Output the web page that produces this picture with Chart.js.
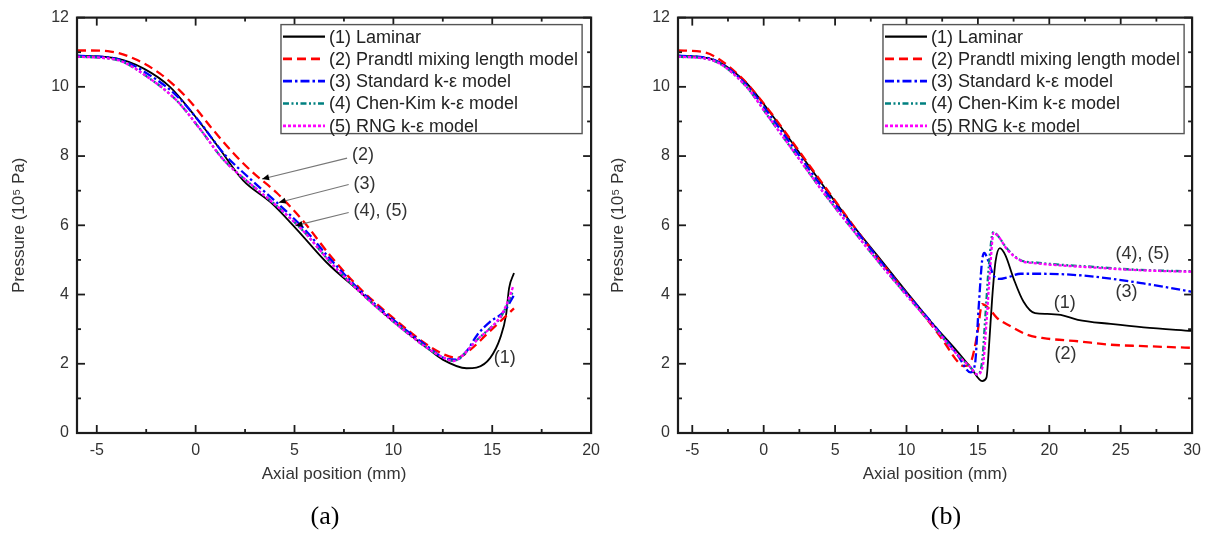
<!DOCTYPE html>
<html><head><meta charset="utf-8">
<script src="https://cdn.jsdelivr.net/npm/chart.js@4.4.1/dist/chart.umd.min.js"></script>
<style>
html,body{margin:0;padding:0;background:#fff;}
#wrap{position:relative;width:1209px;height:535px;overflow:hidden;background:#fff;}
#ca{position:absolute;left:0;top:0;}
#cb{position:absolute;left:600px;top:0;}
</style></head><body>
<div id="wrap"><canvas id="ca" width="608" height="535"></canvas><canvas id="cb" width="609" height="535"></canvas></div>
<script>
// ---------- DATA ----------
const seriesNames = ['(1) Laminar', '(2) Prandtl mixing length model', '(3) Standard k-\u03b5 model', '(4) Chen-Kim k-\u03b5 model', '(5) RNG k-\u03b5 model'];

// panel (a)
const lamA_x = [-6,-4,-2.6,-1.3,-0.1,1.1,2.4,3.8,5.1,6.6,8.3,10,11.7,12.5,13.7,14.2,14.9,15.4,15.7,15.85,16.1];
const lamA_y = [10.9,10.82,10.52,10.0,9.2,8.3,7.3,6.66,5.89,4.94,4.08,3.22,2.46,2.12,1.87,1.89,2.17,2.74,3.41,4.18,4.62];
const prA_x = [-6,-5.5,-4.3,-3.1,-1.8,-0.4,0.75,1.9,2.9,4.1,5.5,6.8,8.3,10,11.7,12.55,13.2,13.9,14.7,15.4,16.1];
const prA_y = [11.05,11.05,11.02,10.81,10.38,9.66,8.85,8.09,7.52,6.94,6.08,5.13,4.18,3.32,2.55,2.27,2.17,2.41,2.84,3.22,3.6];
const stA_x = [-6,-4,-2.3,-0.9,0.25,1.4,2.8,4.1,5.5,6.8,8.3,10,11.7,12.55,13.2,13.7,14.25,14.9,15.6,16.1];
const stA_y = [10.9,10.81,10.33,9.71,8.95,8.09,7.32,6.66,5.89,5.03,4.13,3.27,2.51,2.17,2.12,2.36,2.84,3.22,3.51,3.98];
const ckA_x = [-6,-4,-2.3,-0.9,0.25,1.4,2.8,4.1,5.5,6.8,8.3,10,11.7,12.55,13.05,13.55,14.25,14.9,15.4,15.75,16.05];
const ckA_y = [10.87,10.78,10.23,9.57,8.76,7.9,7.18,6.56,5.8,4.94,4.08,3.22,2.46,2.17,2.08,2.27,2.7,3.03,3.32,3.7,4.1];
const rnA_x = [-6,-4,-2.3,-0.9,0.25,1.4,2.8,4.1,5.5,6.8,8.3,10,11.7,12.55,13.05,13.55,14.25,14.9,15.4,15.75,16.05];
const rnA_y = [10.87,10.78,10.23,9.57,8.76,7.9,7.18,6.56,5.8,4.94,4.08,3.22,2.46,2.17,2.08,2.27,2.7,3.03,3.35,3.75,4.22];

// panel (b)
const lamB_x = [-6,-3.7,-1.4,0.5,2.35,4.2,6.1,7.95,9.8,11.7,13.55,14.5,15.3,15.6,15.77,16.0,16.23,16.54,16.93,17.5,18.2,19.0,19.85,20.8,22,24.3,26.6,30];
const lamB_y = [10.9,10.81,10.19,9.23,8.18,7.13,6.08,5.13,4.18,3.22,2.36,1.89,1.5,1.6,2.46,3.89,4.94,5.34,5.13,4.46,3.79,3.46,3.44,3.41,3.27,3.15,3.05,2.95];
const prB_x = [-6,-4.2,-1.85,0,1.9,3.75,5.6,7.5,9.35,11.2,12.6,13.55,14.0,14.5,14.95,15.3,15.77,16.35,17.3,18.45,19.6,22,24.3,26.6,30];
const prB_y = [11.05,11.0,10.38,9.52,8.47,7.42,6.37,5.32,4.37,3.41,2.65,2.08,1.93,2.05,2.84,3.72,3.6,3.32,3.08,2.84,2.74,2.65,2.55,2.51,2.46];
const stB_x = [-6,-3.7,-1.4,0.5,2.35,4.2,6.1,7.95,9.8,11.7,13.55,14.5,14.8,15.05,15.3,15.45,15.7,16.1,16.5,17.1,18.0,19.6,22,24.3,26.6,28.5,30];
const stB_y = [10.9,10.81,10.14,9.14,8.09,7.04,6.04,5.08,4.13,3.22,2.27,1.75,2.0,3.6,5.0,5.2,5.0,4.55,4.45,4.5,4.6,4.6,4.56,4.46,4.32,4.19,4.08];
const ckB_x = [-6,-3.7,-1.4,0.5,2.35,4.2,6.1,7.95,9.8,11.7,13.55,14.5,14.95,15.3,15.53,15.77,16.07,16.35,17.05,18.0,19.15,20.8,23.1,25.45,27.8,30];
const ckB_y = [10.87,10.78,10.09,9.04,7.99,6.94,5.94,4.99,4.08,3.17,2.27,1.89,1.69,2.08,3.41,4.84,5.8,5.72,5.32,4.99,4.92,4.86,4.8,4.73,4.69,4.67];
const rnB_x = [-6,-3.7,-1.4,0.5,2.35,4.2,6.1,7.95,9.8,11.7,13.55,14.5,14.95,15.35,15.6,15.85,16.1,16.4,17.05,18.0,19.15,20.8,23.1,25.45,27.8,30];
const rnB_y = [10.87,10.78,10.09,9.04,7.99,6.94,5.94,4.99,4.08,3.17,2.27,1.89,1.69,1.95,3.2,4.7,5.78,5.7,5.3,4.98,4.9,4.84,4.78,4.72,4.68,4.66];

// ticks
const xTicksA = [-5,-2.5,0,2.5,5,7.5,10,12.5,15,17.5,20];
const xTicksB = [-5,-2.5,0,2.5,5,7.5,10,12.5,15,17.5,20,22.5,25,27.5,30];
const xLabelValues = [-5,0,5,10,15,20,25,30];
const yTicks = [0,1,2,3,4,5,6,7,8,9,10,11,12];
const yLabelValues = [0,2,4,6,8,10,12];

// annotations (data units)
const notesA = [
  {text:'(2)', at:[7.91,8.04], arrowFrom:[7.66,7.94], arrowTo:[3.36,7.34]},
  {text:'(3)', at:[7.98,7.18], arrowFrom:[7.74,7.18], arrowTo:[4.2,6.66]},
  {text:'(4), (5)', at:[7.98,6.42], arrowFrom:[7.74,6.37], arrowTo:[5.05,5.99]},
  {text:'(1)', at:[15.08,2.17]}
];
const notesB = [
  {text:'(4), (5)', at:[24.63,5.16]},
  {text:'(3)', at:[24.63,4.06]},
  {text:'(1)', at:[20.32,3.75]},
  {text:'(2)', at:[20.36,2.29]}
];

// ---------- STYLE ----------
const SANS = "'Liberation Sans', Arial, sans-serif";
const styles = [
  {color:'#000000', dash:[], width:1.8},
  {color:'#ff0000', dash:[9,5], width:2.3},
  {color:'#0000ff', dash:[9,3,2.5,3], width:2.3},
  {color:'#008080', dash:[6,2.5,2,2.5,2,2.5], width:2.3},
  {color:'#ff00ff', dash:[3,2], width:2.3}
];

function pts(xs, ys){ return xs.map((x,i)=>({x:x, y:ys[i]})); }
function makeDatasets(list){
  return list.map((p,i)=>({
    label: seriesNames[i],
    data: pts(p[0], p[1]),
    borderColor: styles[i].color,
    borderDash: styles[i].dash,
    borderWidth: styles[i].width,
    pointRadius: 0,
    fill: false,
    cubicInterpolationMode: 'monotone',
    order: [4,3,2,1,0][i]
  }));
}

const framePlugin = {
  id:'frame',
  afterDatasetsDraw(chart){
    const {ctx, chartArea:{left,right,top,bottom}, scales:{x,y}} = chart;
    ctx.save();
    ctx.strokeStyle='#1c1c1c';
    ctx.lineWidth=1.8;
    ctx.setLineDash([]);
    const seg=(a,b,c,d)=>{ctx.beginPath();ctx.moveTo(a,b);ctx.lineTo(c,d);ctx.stroke();};
    x.ticks.forEach(t=>{
      const px=x.getPixelForValue(t.value);
      const L = (t.value%5===0)?8:4;
      seg(px,bottom,px,bottom-L); seg(px,top,px,top+L);
    });
    y.ticks.forEach(t=>{
      const py=y.getPixelForValue(t.value);
      const L = (t.value%2===0)?8:4;
      seg(left,py,left+L,py); seg(right,py,right-L,py);
    });
    ctx.lineWidth=2.2;
    ctx.strokeRect(left,top,right-left,bottom-top);
    ctx.restore();
  }
};

const legendPlugin = {
  id:'boxLegend',
  afterDraw(chart, args, opts){
    const {ctx, chartArea} = chart;
    ctx.save();
    ctx.font = '18px ' + SANS;
    let maxW = 0;
    seriesNames.forEach(n=>{maxW=Math.max(maxW, ctx.measureText(n).width);});
    const w = 2+42+4+maxW+4;
    const right = chartArea.right - opts.rightGap;
    const leftX = right - w;
    const topY = chartArea.top + 7;
    const h = 109;
    ctx.fillStyle='#ffffff';
    ctx.fillRect(leftX, topY, w, h);
    ctx.strokeStyle='#555555'; ctx.lineWidth=1.4; ctx.setLineDash([]);
    ctx.strokeRect(leftX, topY, w, h);
    seriesNames.forEach((n,i)=>{
      const yy = topY + 12 + i*22.3;
      ctx.strokeStyle=styles[i].color; ctx.lineWidth=styles[i].width+0.4;
      ctx.setLineDash(styles[i].dash);
      ctx.beginPath(); ctx.moveTo(leftX+2, yy); ctx.lineTo(leftX+44, yy); ctx.stroke();
      ctx.setLineDash([]);
      ctx.fillStyle='#222'; ctx.textBaseline='middle'; ctx.textAlign='left';
      ctx.fillText(n, leftX+48, yy+1);
    });
    ctx.restore();
  }
};

const notesPlugin = {
  id:'notes',
  afterDraw(chart, args, opts){
    const {ctx, scales:{x,y}} = chart;
    ctx.save();
    ctx.font='18px ' + SANS;
    ctx.fillStyle='#333'; ctx.textBaseline='middle'; ctx.textAlign='left';
    opts.items.forEach(n=>{
      ctx.fillText(n.text, x.getPixelForValue(n.at[0]), y.getPixelForValue(n.at[1]));
      if(n.arrowFrom){
        const x1=x.getPixelForValue(n.arrowFrom[0]), y1=y.getPixelForValue(n.arrowFrom[1]);
        const x2=x.getPixelForValue(n.arrowTo[0]), y2=y.getPixelForValue(n.arrowTo[1]);
        ctx.strokeStyle='#777'; ctx.lineWidth=1.1; ctx.setLineDash([]);
        ctx.beginPath(); ctx.moveTo(x1,y1); ctx.lineTo(x2,y2); ctx.stroke();
        const ang=Math.atan2(y2-y1,x2-x1);
        ctx.fillStyle='#000';
        ctx.beginPath();
        ctx.moveTo(x2,y2);
        ctx.lineTo(x2-7*Math.cos(ang)+3*Math.sin(ang), y2-7*Math.sin(ang)-3*Math.cos(ang));
        ctx.lineTo(x2-7*Math.cos(ang)-3*Math.sin(ang), y2-7*Math.sin(ang)+3*Math.cos(ang));
        ctx.closePath(); ctx.fill();
        ctx.fillStyle='#333';
      }
    });
    ctx.restore();
  }
};

const captionPlugin = {
  id:'caption',
  afterDraw(chart, args, opts){
    const {ctx} = chart;
    ctx.save();
    ctx.font = "26px 'Liberation Serif', 'Times New Roman', serif";
    ctx.fillStyle='#000'; ctx.textAlign='center'; ctx.textBaseline='middle';
    ctx.fillText(opts.text, opts.cx, opts.cy);
    ctx.restore();
  }
};

function makeChart(canvasId, datasets, xMax, xTicks, caption, capX, layoutPad, yWidth, yTitlePad, notes, legendGap){
  return new Chart(document.getElementById(canvasId), {
    type:'line',
    data:{datasets},
    options:{
      responsive:false, animation:false, devicePixelRatio:1,
      layout:{padding:layoutPad},
      plugins:{
        legend:{display:false}, tooltip:{enabled:false}, title:{display:false},
        caption:{text:caption, cx:capX, cy:517},
        boxLegend:{rightGap:legendGap},
        notes:{items:notes}
      },
      scales:{
        x:{type:'linear', min:-6, max:xMax,
          afterBuildTicks:s=>{s.ticks = xTicks.map(v=>({value:v}));},
          afterFit:s=>{s.height=102;},
          grid:{display:false, drawTicks:false}, border:{display:false},
          ticks:{autoSkip:false, maxRotation:0, padding:8, color:'#333',
            font:{family:SANS,size:16},
            callback:v=> xLabelValues.includes(v) ? String(v) : ''},
          title:{display:true, text:'Axial position (mm)', color:'#333',
            font:{family:SANS,size:17}, padding:{top:4,bottom:50}}
        },
        y:{type:'linear', min:0, max:12,
          afterBuildTicks:s=>{s.ticks = yTicks.map(v=>({value:v}));},
          afterFit:s=>{s.width=yWidth;},
          grid:{display:false, drawTicks:false}, border:{display:false},
          ticks:{autoSkip:false, padding:8, color:'#333',
            font:{family:SANS,size:16},
            callback:v=> yLabelValues.includes(v) ? String(v) : ''},
          title:{display:true, text:'Pressure (10\u2075 Pa)', color:'#333',
            font:{family:SANS,size:17}, padding:{top:yTitlePad,bottom:4}}
        }
      }
    },
    plugins:[framePlugin, legendPlugin, notesPlugin, captionPlugin]
  });
}

makeChart('ca', makeDatasets([[lamA_x,lamA_y],[prA_x,prA_y],[stA_x,stA_y],[ckA_x,ckA_y],[rnA_x,rnA_y]]),
  20, xTicksA, '(a)', 325, {top:14,right:0,left:0,bottom:0}, 77, 9, notesA, 9);
makeChart('cb', makeDatasets([[lamB_x,lamB_y],[prB_x,prB_y],[stB_x,stB_y],[ckB_x,ckB_y],[rnB_x,rnB_y]]),
  30, xTicksB, '(b)', 346, {top:14,right:15,left:0,bottom:0}, 78, 8, notesB, 8);
</script>
</body></html>
